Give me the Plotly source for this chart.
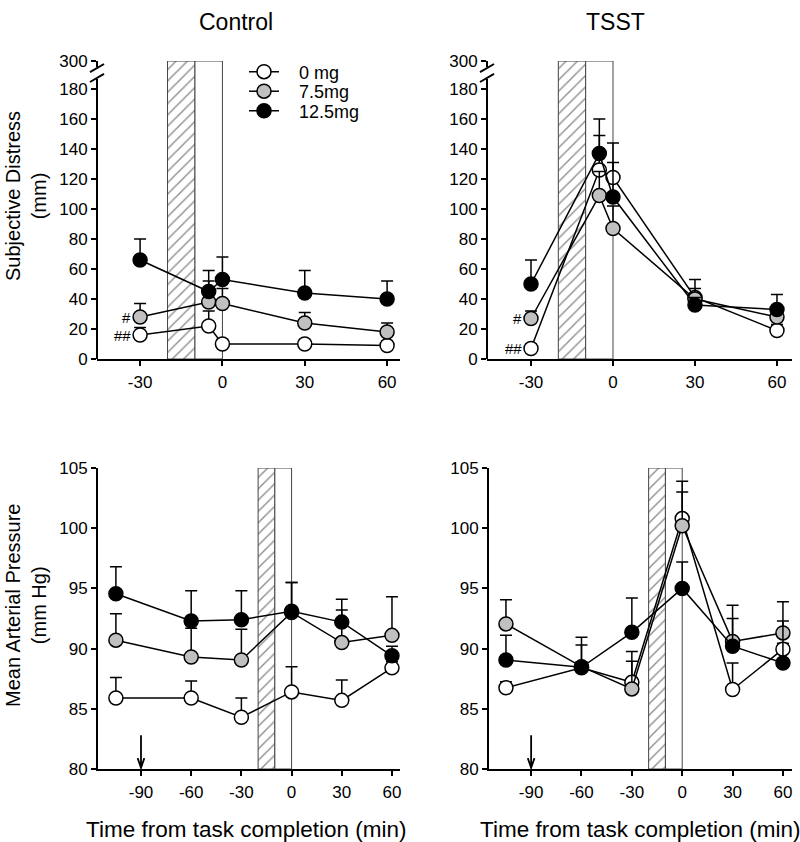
import plotly.graph_objects as go

# ---------------- data ----------------
groups = ["0 mg", "7.5mg", "12.5mg"]
fill_colors = ["white", "#c0c0c0", "black"]

# Subjective distress (mm)
sd_time = [-30, -5, 0, 30, 60]
sd_ctrl_0 = [16, 22, 10, 10, 9]
sd_ctrl_0_sem = [5, 10, 3, 3, 3]
sd_ctrl_75 = [28, 38, 37, 24, 18]
sd_ctrl_75_sem = [9, 14, 10, 7, 6]
sd_ctrl_125 = [66, 45, 53, 44, 40]
sd_ctrl_125_sem = [14, 14, 15, 15, 12]

sd_tsst_0 = [7, 126, 121, 41, 19]
sd_tsst_0_sem = [3, 23, 23, 12, 4]
sd_tsst_75 = [27, 109, 87, 40, 28]
sd_tsst_75_sem = [5, 16, 15, 7, 5]
sd_tsst_125 = [50, 137, 108, 36, 33]
sd_tsst_125_sem = [16, 23, 23, 5, 10]

# Mean arterial pressure (mm Hg)
map_time = [-105, -60, -30, 0, 30, 60]
map_ctrl_0 = [85.9, 85.9, 84.3, 86.4, 85.7, 88.4]
map_ctrl_0_sem = [1.7, 1.4, 1.6, 2.1, 1.7, 0.5]
map_ctrl_75 = [90.7, 89.3, 89.05, 93.0, 90.5, 91.1]
map_ctrl_75_sem = [2.2, 2.4, 2.55, 2.5, 2.7, 3.2]
map_ctrl_125 = [94.55, 92.3, 92.4, 93.1, 92.2, 89.4]
map_ctrl_125_sem = [2.25, 2.5, 2.4, 2.4, 1.9, 0.8]

map_tsst_0 = [86.75, 88.4, 87.2, 100.8, 86.6, 89.95]
map_tsst_0_sem = [0.5, 0.5, 1.75, 3.1, 2.2, 0.5]
map_tsst_75 = [92.05, 88.5, 86.65, 100.2, 90.6, 91.3]
map_tsst_75_sem = [2.0, 1.8, 3.1, 2.8, 1.9, 2.6]
map_tsst_125 = [89.05, 88.45, 91.35, 95.0, 90.2, 88.8]
map_tsst_125_sem = [2.05, 2.5, 2.85, 2.2, 3.4, 3.5]

# task periods (min): anticipation (hatched) and task (open)
anticipation = [-20, -10]
task = [-10, 0]
drug_time = -90

sd_ticks = [0, 20, 40, 60, 80, 100, 120, 140, 160, 180]
sd_break_label = "300"
map_ticks = [80, 85, 90, 95, 100, 105]
x_ticks_sd = [-30, 0, 30, 60]
x_ticks_map = [-90, -60, -30, 0, 30, 60]

FONT = "Liberation Sans, Arial, sans-serif"
W, H = 800, 842
SD_TOP = 198.7  # axis position of the broken "300" tick

fig = go.Figure()


def add_periods(xa, ya, lo, hi):
    for (a, b), pat in ((anticipation, "/"), (task, "")):
        fig.add_trace(go.Bar(
            x=[(a + b) / 2], y=[hi - lo], base=[lo], width=[b - a],
            marker=dict(color="white", line=dict(color="#444", width=1),
                        pattern=dict(shape=pat, fgcolor="#222", bgcolor="white",
                                     size=8, solidity=0.18)),
            xaxis=xa, yaxis=ya, showlegend=False, hoverinfo="skip"))


legend_ids = ["legend", "legend2", "legend3"]


def add_series(xa, ya, t, series, legend):
    for i, (name, col, (v, s)) in enumerate(zip(groups, fill_colors, series)):
        fig.add_trace(go.Scatter(
            x=t, y=v, name="\u00a0\u00a0\u00a0" + name, mode="lines+markers",
            line=dict(color="black", width=1.5),
            marker=dict(size=14, color=col, line=dict(color="black", width=1.5)),
            error_y=dict(type="data", symmetric=False, array=s,
                         arrayminus=[0] * len(s), color="black",
                         thickness=1.5, width=6),
            xaxis=xa, yaxis=ya, showlegend=legend, legend=legend_ids[i]))


add_periods("x", "y", 0, SD_TOP)
add_periods("x2", "y2", 0, SD_TOP)
add_periods("x3", "y3", 80, 105)
add_periods("x4", "y4", 80, 105)

add_series("x", "y", sd_time, [(sd_ctrl_0, sd_ctrl_0_sem), (sd_ctrl_75, sd_ctrl_75_sem),
                                (sd_ctrl_125, sd_ctrl_125_sem)], True)
add_series("x2", "y2", sd_time, [(sd_tsst_0, sd_tsst_0_sem), (sd_tsst_75, sd_tsst_75_sem),
                                  (sd_tsst_125, sd_tsst_125_sem)], False)
add_series("x3", "y3", map_time, [(map_ctrl_0, map_ctrl_0_sem), (map_ctrl_75, map_ctrl_75_sem),
                                   (map_ctrl_125, map_ctrl_125_sem)], False)
add_series("x4", "y4", map_time, [(map_tsst_0, map_tsst_0_sem), (map_tsst_75, map_tsst_75_sem),
                                   (map_tsst_125, map_tsst_125_sem)], False)


def px_x(p):
    return p / W


def px_y(p):
    return 1 - p / H


def hyphen_labels(vals):
    return [str(v).replace("\u2212", "-") for v in vals]


tickfont = dict(family=FONT, size=17, color="black")
common_x = dict(showline=True, linecolor="black", linewidth=2, ticks="outside",
                ticklen=5, tickwidth=1.5, tickcolor="black", showgrid=False,
                zeroline=False, tickfont=tickfont, automargin=False, fixedrange=True,
                ticklabelstandoff=2)
common_y = dict(ticks="outside", ticklen=5, tickwidth=1.5, tickcolor="black",
                showgrid=False, zeroline=False, tickfont=tickfont, automargin=False,
                fixedrange=True)

layout_axes = {
    "xaxis": dict(common_x, domain=[px_x(97), px_x(400)], range=[-45.7, 64.7],
                  tickvals=x_ticks_sd, ticktext=hyphen_labels(x_ticks_sd), anchor="y"),
    "yaxis": dict(common_y, domain=[px_y(359), px_y(61)], range=[0, SD_TOP],
                  tickvals=sd_ticks + [SD_TOP], ticktext=[str(v) for v in sd_ticks] + [sd_break_label],
                  showline=False, anchor="x"),
    "xaxis2": dict(common_x, domain=[px_x(487), px_x(792)], range=[-46.1, 65.5],
                   tickvals=x_ticks_sd, ticktext=hyphen_labels(x_ticks_sd), anchor="y2"),
    "yaxis2": dict(common_y, domain=[px_y(359), px_y(61)], range=[0, SD_TOP],
                   tickvals=sd_ticks + [SD_TOP], ticktext=[str(v) for v in sd_ticks] + [sd_break_label],
                   showline=False, anchor="x2"),
    "xaxis3": dict(common_x, domain=[px_x(98), px_x(400)], range=[-115.7, 64.8],
                   tickvals=x_ticks_map, ticktext=hyphen_labels(x_ticks_map), anchor="y3"),
    "yaxis3": dict(common_y, domain=[px_y(769), px_y(468)], range=[80, 105],
                   tickvals=map_ticks, showline=True, linecolor="black", linewidth=2, anchor="x3"),
    "xaxis4": dict(common_x, domain=[px_x(489), px_x(792)], range=[-115.1, 65.4],
                   tickvals=x_ticks_map, ticktext=hyphen_labels(x_ticks_map), anchor="y4"),
    "yaxis4": dict(common_y, domain=[px_y(769), px_y(468)], range=[80, 105],
                   tickvals=map_ticks, showline=True, linecolor="black", linewidth=2, anchor="x4"),
}

shapes = []
# broken y axes on the distress panels
for ax_px, yref in ((97, "y"), (487, "y2")):
    xp = px_x(ax_px)
    shapes.append(dict(type="line", xref="paper", yref=yref, x0=xp, x1=xp, y0=0, y1=186.7,
                       line=dict(color="black", width=2)))
    shapes.append(dict(type="line", xref="paper", yref=yref, x0=xp, x1=xp, y0=194.7, y1=SD_TOP,
                       line=dict(color="black", width=2)))
    for y0 in (184.7, 191.3):
        shapes.append(dict(type="line", xref="paper", yref=yref,
                           x0=px_x(ax_px - 7), x1=px_x(ax_px + 7), y0=y0, y1=y0 + 5.4,
                           line=dict(color="black", width=2)))

# drug administration arrows
for xref, yref in (("x3", "y3"), ("x4", "y4")):
    shapes.append(dict(type="path", xref=xref, yref=yref,
                       path=f"M {drug_time} 82.8 L {drug_time} 80.1 "
                            f"M {drug_time - 2.0} 80.9 L {drug_time} 80.1 L {drug_time + 2.0} 80.9",
                       line=dict(color="black", width=1.8)))

ann = []
titlefont = dict(family=FONT, size=23, color="black")
ylabfont = dict(family=FONT, size=20, color="black")
xlabfont = dict(family=FONT, size=22.5, color="black")


def paper_text(text, x, y, font, angle=0):
    return dict(text=text, x=px_x(x), y=px_y(y), xref="paper", yref="paper",
                xanchor="center", yanchor="middle", showarrow=False, textangle=angle,
                font=font)


ann.append(paper_text("Control", 236, 22, titlefont))
ann.append(paper_text("TSST", 615, 22, titlefont))
ann.append(paper_text("Subjective Distress<br>(mm)", 26, 196, ylabfont, -90))
ann.append(paper_text("Mean Arterial Pressure<br>(mm Hg)", 26, 606, ylabfont, -90))
for cx in (246, 640):
    ann.append(paper_text("Time from task completion (min)", cx, 829, xlabfont))

# significance markers
sig_font = dict(family=FONT, size=15, color="black")
for xref, yref, g, w in (("x", "y", sd_ctrl_75, sd_ctrl_0), ("x2", "y2", sd_tsst_75, sd_tsst_0)):
    ann.append(dict(text="#", x=sd_time[0], y=g[0], xref=xref, yref=yref, xanchor="right",
                    yanchor="middle", xshift=-7, showarrow=False, font=sig_font))
    ann.append(dict(text="##", x=sd_time[0], y=w[0], xref=xref, yref=yref, xanchor="right",
                    yanchor="middle", xshift=-7, showarrow=False, font=sig_font))

legfont = dict(family=FONT, size=18, color="black")
legends = {}
for i, lid in enumerate(legend_ids):
    legends[lid] = dict(x=px_x(244), y=px_y(72 + 19.5 * i), xanchor="left", yanchor="middle",
                        bgcolor="rgba(0,0,0,0)", font=legfont, itemwidth=30)

fig.update_layout(
    width=W, height=H, margin=dict(l=0, r=0, t=0, b=0, autoexpand=False),
    paper_bgcolor="white", plot_bgcolor="rgba(0,0,0,0)",
    barmode="overlay", shapes=shapes, annotations=ann,
    font=dict(family=FONT, color="black"),
    **legends,
    **layout_axes,
)

fig.write_html("out.html", config={"displayModeBar": False},
               post_script="document.body.style.margin='0px';")
